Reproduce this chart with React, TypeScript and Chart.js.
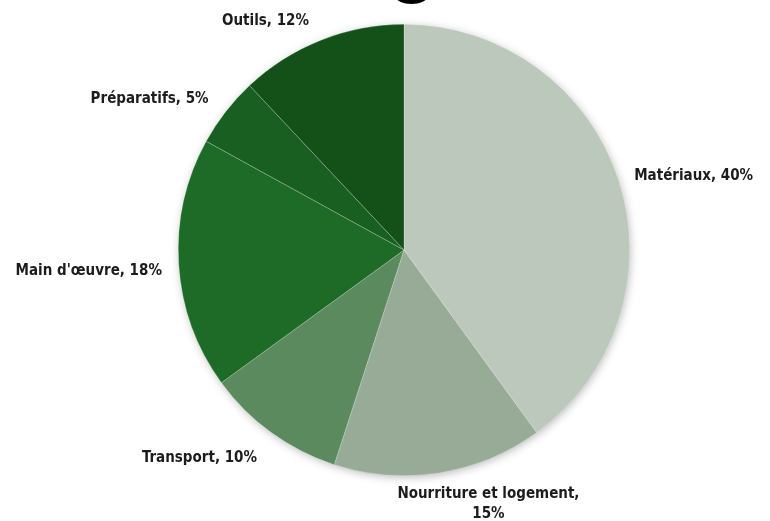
import React, { useEffect, useRef } from "react";
import { Chart, registerables } from "chart.js";

Chart.register(...registerables);

const categories = ["Matériaux", "Nourriture et logement", "Transport", "Main d'œuvre", "Préparatifs", "Outils"];
const shares = [40, 15, 10, 18, 5, 12];
const sliceColors = ["#bcc8bc", "#97ab97", "#5c8a5f", "#1e6b27", "#1a5f22", "#135119"];
const labelLines: string[][] = [
  ["Matériaux, 40%"],
  ["Nourriture et logement,", "15%"],
  ["Transport, 10%"],
  ["Main d'œuvre, 18%"],
  ["Préparatifs, 5%"],
  ["Outils, 12%"],
];

// label placement nudges (layout only, px)
const LABEL_NUDGE: [number, number][] = [
  [7, 3],
  [33, 0],
  [-31, 8],
  [-5, 6],
  [-20, 1],
  [-35, 1],
];

const FONT = 'bold 15px "Liberation Sans Narrow", "DejaVu Sans Condensed", "Liberation Sans", sans-serif';

const shadowPlugin = {
  id: "pieShadow",
  beforeDatasetsDraw(chart: any) {
    const meta = chart.getDatasetMeta(0);
    if (!meta.data.length) return;
    const a: any = meta.data[0];
    const ctx = chart.ctx;
    ctx.save();
    ctx.shadowColor = "rgba(0,0,0,0.30)";
    ctx.shadowBlur = 10;
    ctx.shadowOffsetX = 1;
    ctx.shadowOffsetY = 2;
    ctx.fillStyle = "#ffffff";
    ctx.beginPath();
    ctx.arc(a.x, a.y, a.outerRadius - 1, 0, Math.PI * 2);
    ctx.fill();
    ctx.restore();
  },
};

const labelPlugin = {
  id: "outsideLabels",
  afterDatasetsDraw(chart: any) {
    const meta = chart.getDatasetMeta(0);
    const ctx = chart.ctx;
    ctx.save();
    ctx.font = FONT;
    ctx.fillStyle = "#1c1c1c";
    ctx.textAlign = "center";
    ctx.textBaseline = "middle";
    const lh = 20;
    meta.data.forEach((arc: any, i: number) => {
      const mid = (arc.startAngle + arc.endAngle) / 2;
      const r = arc.outerRadius + 12;
      const ax = arc.x + Math.cos(mid) * r;
      const ay = arc.y + Math.sin(mid) * r;
      const lines = labelLines[i];
      const w = Math.max(...lines.map((l) => ctx.measureText(l).width));
      const h = lines.length * lh;
      const cx = ax + (Math.cos(mid) * w) / 2 + LABEL_NUDGE[i][0];
      const cy = ay + (Math.sin(mid) * h) / 2 + LABEL_NUDGE[i][1];
      lines.forEach((l, k) => {
        ctx.fillText(l, cx, cy - h / 2 + lh / 2 + k * lh);
      });
    });
    ctx.restore();
  },
};

export default function App() {
  const ref = useRef<HTMLCanvasElement>(null);
  useEffect(() => {
    if (!ref.current) return;
    const chart = new Chart(ref.current, {
      type: "pie",
      data: {
        labels: categories,
        datasets: [
          {
            data: shares,
            backgroundColor: sliceColors,
            borderColor: "rgba(255,255,255,0.35)",
            borderWidth: 0.6,
          },
        ],
      },
      options: {
        responsive: false,
        animation: false,
        layout: { padding: { top: 24, bottom: 45, left: 100, right: 62 } },
        plugins: {
          legend: { display: false },
          tooltip: { enabled: false },
        },
      },
      plugins: [shadowPlugin, labelPlugin],
    });
    return () => chart.destroy();
  }, []);
  return (
    <div style={{ position: "fixed", left: 0, top: 0, width: 770, height: 521, background: "#fff" }}>
      <canvas ref={ref} width={770} height={521} style={{ width: 770, height: 521 }} />
      <div
        style={{
          position: "absolute",
          left: 396,
          top: -10,
          width: 31,
          height: 14,
          background: "#000",
          borderRadius: "50%",
        }}
      />
    </div>
  );
}
